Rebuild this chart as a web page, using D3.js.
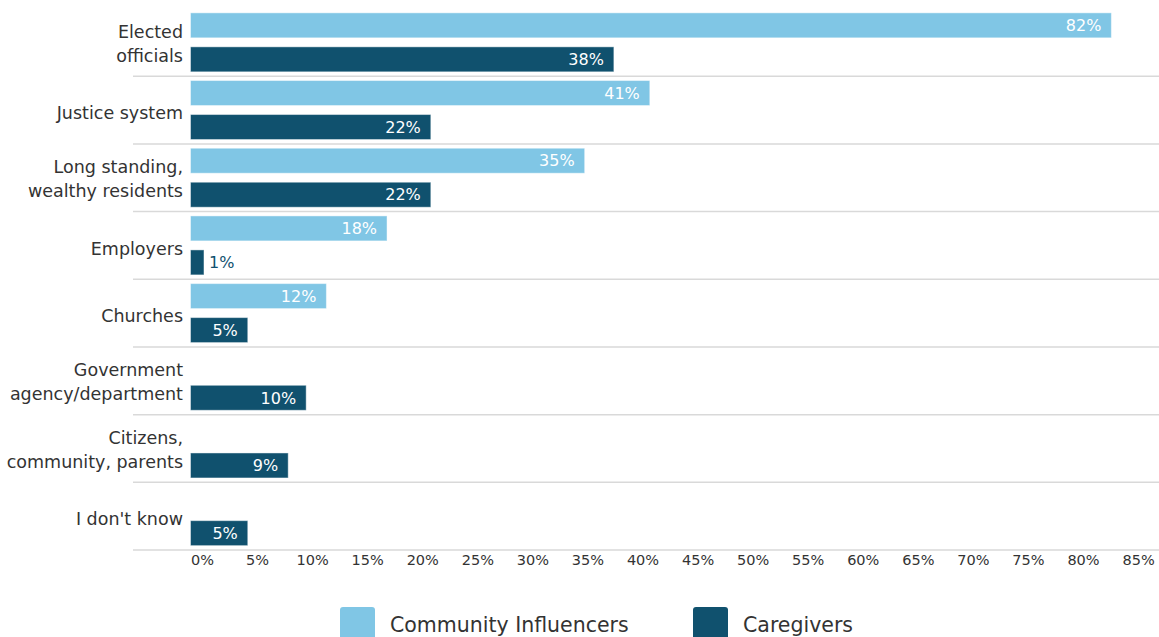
<!DOCTYPE html>
<html>
<head>
<meta charset="utf-8">
<script src="https://cdn.jsdelivr.net/npm/d3@7"></script>
<style>
  html, body { margin: 0; padding: 0; background: #ffffff; }
  svg { display: block; font-family: "DejaVu Sans", sans-serif; }
</style>
</head>
<body>
<svg id="chart" width="1159" height="637"></svg>
<script>
  // categories, each split into its display lines
  const categories = [
    ["Elected", "officials"],
    ["Justice system"],
    ["Long standing,", "wealthy residents"],
    ["Employers"],
    ["Churches"],
    ["Government", "agency/department"],
    ["Citizens,", "community, parents"],
    ["I don't know"]
  ];
  const seriesNames = ["Community Influencers", "Caregivers"];

  const communityValues = [82, 40.9, 35.1, 17.5, 12.1, null, null, null];
  const communityLabels = ["82%", "41%", "35%", "18%", "12%", null, null, null];
  const caregiverValues = [37.7, 21.4, 21.4, 1.2, 5.1, 10.3, 8.7, 5.1];
  const caregiverLabels = ["38%", "22%", "22%", "1%", "5%", "10%", "9%", "5%"];

  const xTicks = [0, 5, 10, 15, 20, 25, 30, 35, 40, 45, 50, 55, 60, 65, 70, 75, 80, 85];

  const LIGHT_BLUE = "#80c6e5";
  const DARK_BLUE = "#10516e";
  const TEXT = "#333333";
  const GRID = "#d9d9d9";

  const svg = d3.select("#chart");

  const width = 1159;
  const plotLeft = 190.5;
  const plotTop = 8.5;
  const plotBottom = 550;

  const keys = categories.map(c => c.join(" "));

  const x = d3.scaleLinear().domain([0, 85]).range([plotLeft, plotLeft + 85 * 11.23]);
  // tick labels sit a little off the bar scale in the original
  const xLabel = d3.scaleLinear().domain([0, 85]).range([x(0) + 11.5, x(85) - 7]);

  const y = d3.scaleBand().domain(keys).range([plotTop, plotBottom]);
  const ySeries = d3.scaleBand()
    .domain(seriesNames)
    .range([0, y.bandwidth()])
    .paddingInner(0.265)
    .paddingOuter(0.128);

  const color = d3.scaleOrdinal().domain(seriesNames).range([LIGHT_BLUE, DARK_BLUE]);

  const rows = keys.map((key, i) => ({
    key,
    lines: categories[i],
    bars: [
      { series: seriesNames[0], value: communityValues[i], label: communityLabels[i] },
      { series: seriesNames[1], value: caregiverValues[i], label: caregiverLabels[i] }
    ].filter(b => b.value != null)
  }));

  // separator lines under every category
  svg.append("g")
    .selectAll("line")
    .data(keys)
    .join("line")
    .attr("x1", 133)
    .attr("x2", width)
    .attr("y1", d => y(d) + y.bandwidth())
    .attr("y2", d => y(d) + y.bandwidth())
    .attr("stroke", GRID)
    .attr("stroke-width", 1.5);

  const groups = svg.append("g")
    .selectAll("g")
    .data(rows)
    .join("g")
    .attr("transform", d => `translate(0,${y(d.key)})`);

  groups.selectAll("rect")
    .data(d => d.bars)
    .join("rect")
    .attr("x", x(0))
    .attr("y", d => ySeries(d.series))
    .attr("width", d => x(d.value) - x(0))
    .attr("height", ySeries.bandwidth())
    .attr("fill", d => color(d.series))
    .attr("stroke", "rgba(255,255,255,0.45)")
    .attr("stroke-width", 1);

  groups.selectAll("text.value")
    .data(d => d.bars)
    .join("text")
    .attr("class", "value")
    .attr("x", d => d.value < 3 ? x(d.value) + 5 : x(d.value) - 10)
    .attr("y", d => ySeries(d.series) + ySeries.bandwidth() / 2)
    .attr("dy", "0.36em")
    .attr("text-anchor", d => d.value < 3 ? "start" : "end")
    .attr("font-size", "16px")
    .attr("fill", d => d.value < 3 ? DARK_BLUE : "#ffffff")
    .text(d => d.label);

  // category labels, right aligned next to the bars
  const catLabels = groups.append("text")
    .attr("text-anchor", "end")
    .attr("font-size", "17.5px")
    .attr("fill", TEXT);

  catLabels.selectAll("tspan")
    .data(d => d.lines.map((line, i) => ({ line, i, n: d.lines.length })))
    .join("tspan")
    .attr("x", 183)
    .attr("y", d => y.bandwidth() / 2 + (d.n > 1 ? 1 : 3) + (d.i - (d.n - 1) / 2) * 24)
    .attr("dy", "0.36em")
    .text(d => d.line);

  // x axis labels
  const axis = svg.append("g")
    .attr("transform", `translate(0,${plotBottom})`)
    .call(d3.axisBottom(xLabel).tickValues(xTicks).tickFormat(d => d + "%").tickSize(0).tickPadding(5));
  axis.select(".domain").remove();
  axis.selectAll("text")
    .attr("font-family", "'DejaVu Sans', sans-serif")
    .attr("font-size", "14.5px")
    .attr("fill", TEXT);

  // legend
  const legendX = [340, 693];
  const legend = svg.append("g")
    .selectAll("g")
    .data(seriesNames)
    .join("g")
    .attr("transform", (d, i) => `translate(${legendX[i]},607)`);

  legend.append("rect")
    .attr("width", 35)
    .attr("height", 35)
    .attr("rx", 3)
    .attr("fill", d => color(d));

  legend.append("text")
    .attr("x", 50)
    .attr("y", 18)
    .attr("dy", "0.36em")
    .attr("font-size", "20.5px")
    .attr("fill", TEXT)
    .text(d => d);
</script>
</body>
</html>
